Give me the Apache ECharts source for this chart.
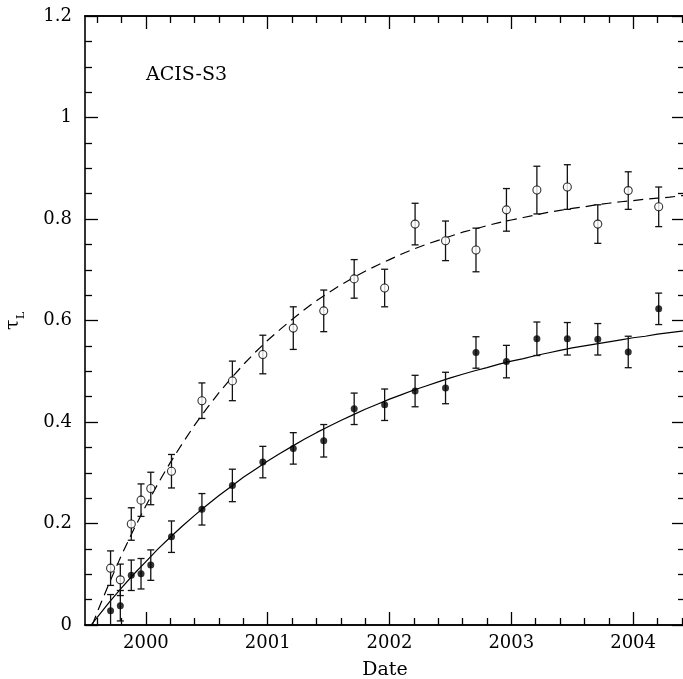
<!DOCTYPE html>
<html>
<head>
<meta charset="utf-8">
<script src="https://cdn.jsdelivr.net/npm/echarts@6/dist/echarts.min.js"></script>
<style>html,body{margin:0;padding:0;background:#fff;}#c{width:683px;height:679px;}</style>
</head>
<body>
<div id="c"></div>
<script>
// Observation dates (decimal years)
var dates = [1999.71, 1999.79, 1999.88, 1999.96, 2000.04, 2000.21, 2000.46, 2000.71, 2000.96, 2001.21, 2001.46,
             2001.71, 2001.96, 2002.21, 2002.46, 2002.71, 2002.96, 2003.21, 2003.46, 2003.71, 2003.96, 2004.21];
// Filled points (tau_L) and errors
var filledTau = [0.028, 0.038, 0.098, 0.101, 0.118, 0.174, 0.228, 0.275, 0.321, 0.348, 0.363,
                 0.426, 0.434, 0.461, 0.467, 0.537, 0.519, 0.564, 0.564, 0.563, 0.538, 0.623];
var filledErr = [0.032, 0.030, 0.030, 0.030, 0.030, 0.031, 0.031, 0.032, 0.031, 0.031, 0.032,
                 0.031, 0.031, 0.031, 0.031, 0.031, 0.032, 0.033, 0.032, 0.031, 0.031, 0.031];
// Open points (tau_L) and errors
var openTau = [0.112, 0.089, 0.199, 0.246, 0.269, 0.303, 0.442, 0.481, 0.533, 0.585, 0.619,
               0.682, 0.664, 0.790, 0.757, 0.739, 0.818, 0.857, 0.863, 0.790, 0.856, 0.824];
var openErr = [0.034, 0.031, 0.032, 0.032, 0.032, 0.033, 0.035, 0.039, 0.038, 0.042, 0.041,
               0.038, 0.037, 0.041, 0.039, 0.043, 0.042, 0.047, 0.044, 0.038, 0.037, 0.039];
// Fit curves
var solidYears = [1999.55, 1999.6, 1999.7, 1999.8, 1999.9, 2000.0, 2000.1, 2000.2, 2000.3, 2000.4, 2000.5,
                  2000.6, 2000.7, 2000.8, 2000.9, 2001.0, 2001.1, 2001.2, 2001.3, 2001.4, 2001.5,
                  2001.6, 2001.7, 2001.8, 2001.9, 2002.0, 2002.1, 2002.2, 2002.3, 2002.4, 2002.5,
                  2002.6, 2002.7, 2002.8, 2002.9, 2003.0, 2003.1, 2003.2, 2003.3, 2003.4, 2003.5,
                  2003.6, 2003.7, 2003.8, 2003.9, 2004.0, 2004.1, 2004.2, 2004.3, 2004.4, 2004.5];
var solidVals = [0.000, 0.015, 0.045, 0.073, 0.100, 0.125, 0.150, 0.173, 0.195, 0.216, 0.236,
                 0.255, 0.273, 0.291, 0.307, 0.323, 0.338, 0.352, 0.366, 0.379, 0.391,
                 0.403, 0.414, 0.425, 0.435, 0.445, 0.454, 0.463, 0.471, 0.479, 0.487,
                 0.494, 0.501, 0.507, 0.514, 0.520, 0.525, 0.531, 0.536, 0.541, 0.546,
                 0.550, 0.554, 0.558, 0.562, 0.566, 0.569, 0.573, 0.576, 0.579, 0.582];
var dashedYears = [1999.56, 1999.6, 1999.7, 1999.8, 1999.9, 2000.0, 2000.1, 2000.2, 2000.3, 2000.4, 2000.5,
                   2000.6, 2000.7, 2000.8, 2000.9, 2001.0, 2001.1, 2001.2, 2001.3, 2001.4, 2001.5,
                   2001.6, 2001.7, 2001.8, 2001.9, 2002.0, 2002.1, 2002.2, 2002.3, 2002.4, 2002.5,
                   2002.6, 2002.7, 2002.8, 2002.9, 2003.0, 2003.1, 2003.2, 2003.3, 2003.4, 2003.5,
                   2003.6, 2003.7, 2003.8, 2003.9, 2004.0, 2004.1, 2004.2, 2004.3, 2004.4, 2004.5];
var dashedVals = [0.000, 0.025, 0.083, 0.138, 0.188, 0.235, 0.279, 0.320, 0.358, 0.394, 0.427,
                  0.458, 0.486, 0.513, 0.538, 0.561, 0.582, 0.602, 0.621, 0.639, 0.655,
                  0.670, 0.684, 0.697, 0.709, 0.720, 0.731, 0.741, 0.750, 0.758, 0.766,
                  0.774, 0.780, 0.787, 0.793, 0.798, 0.803, 0.808, 0.813, 0.817, 0.821,
                  0.824, 0.828, 0.831, 0.834, 0.836, 0.839, 0.841, 0.843, 0.846, 0.847];
// Axis ticks
var xMajorTicks = [2000, 2001, 2002, 2003, 2004];
var xMinorTicks = [1999.6, 1999.8, 2000.2, 2000.4, 2000.6, 2000.8, 2001.2, 2001.4, 2001.6, 2001.8,
                   2002.2, 2002.4, 2002.6, 2002.8, 2003.2, 2003.4, 2003.6, 2003.8, 2004.2, 2004.4];

var X_MIN = 1999.5, X_MAX = 2004.426;
var FONT = 'DejaVu Serif';
var chart = echarts.init(document.getElementById('c'), null, {renderer: 'canvas'});

function zip3(a, b, c) { return a.map(function (v, i) { return [v, b[i], c[i]]; }); }
function zip2(a, b) { return a.map(function (v, i) { return [v, b[i]]; }); }

function errRender(params, api) {
  var x = api.value(0), y = api.value(1), e = api.value(2);
  var t = api.coord([x, y + e]), b = api.coord([x, y - e]);
  var hw = 3.5, st = {stroke: '#111', lineWidth: 1.3};
  return {type: 'group', children: [
    {type: 'line', shape: {x1: t[0], y1: t[1], x2: b[0], y2: b[1]}, style: st},
    {type: 'line', shape: {x1: t[0] - hw, y1: t[1], x2: t[0] + hw, y2: t[1]}, style: st},
    {type: 'line', shape: {x1: b[0] - hw, y1: b[1], x2: b[0] + hw, y2: b[1]}, style: st}
  ]};
}

var axLine = {show: true, lineStyle: {color: '#000', width: 1.6}};
function xAx(pos, ticks, len, showLabel) {
  return {
    type: 'value', position: pos, min: X_MIN, max: X_MAX,
    axisLine: axLine,
    axisTick: {show: true, inside: true, length: len, customValues: ticks, lineStyle: {color: '#000', width: 1.3}},
    axisLabel: showLabel ? {show: true, customValues: ticks, margin: 9, color: '#000', fontFamily: FONT, fontSize: 18,
                             formatter: function (v) { return String(Math.round(v)); }} : {show: false},
    splitLine: {show: false}
  };
}
function yAx(pos, showLabel) {
  return {
    type: 'value', position: pos, min: 0, max: 1.2, interval: 0.2,
    axisLine: axLine,
    axisTick: {show: true, inside: true, length: 13, lineStyle: {color: '#000', width: 1.3}},
    minorTick: {show: true, splitNumber: 4, length: 7, lineStyle: {color: '#000', width: 1.3}},
    axisLabel: showLabel ? {show: true, margin: 13, color: '#000', fontFamily: FONT, fontSize: 18,
                             formatter: function (v) { return String(Math.round(v * 10) / 10); }} : {show: false},
    splitLine: {show: false}
  };
}

var xBottom = xAx('bottom', xMajorTicks, 13, true);
xBottom.name = 'Date';
xBottom.nameLocation = 'middle';
xBottom.nameGap = 36;
xBottom.nameTextStyle = {color: '#000', fontFamily: FONT, fontSize: 19};

var option = {
  animation: false,
  backgroundColor: '#fff',
  grid: {left: 85, right: -2, top: 16, bottom: 54, containLabel: false, outerBoundsMode: 'none'},
  xAxis: [
    xBottom,
    xAx('bottom', xMinorTicks, 7, false),
    xAx('top', xMajorTicks, 13, false),
    xAx('top', xMinorTicks, 7, false)
  ],
  yAxis: [yAx('left', true), yAx('right', false)],
  graphic: [
    {type: 'text', left: 146, top: 66, style: {text: 'ACIS-S3', fontFamily: FONT, fontSize: 19, fill: '#000'}},
    {type: 'group', x: 19, y: 330, rotation: Math.PI / 2, children: [
      {type: 'text', x: 0, y: -6, style: {text: 'τ', fontFamily: FONT, fontSize: 19, fill: '#000', textVerticalAlign: 'middle'}},
      {type: 'text', x: 11, y: 2, style: {text: 'L', fontFamily: FONT, fontSize: 11, fill: '#000', textVerticalAlign: 'middle'}}
    ]}
  ],
  series: [
    {type: 'line', xAxisIndex: 0, yAxisIndex: 0, data: zip2(solidYears, solidVals), showSymbol: false, smooth: false,
     lineStyle: {color: '#000', width: 1.2}, z: 1, silent: true},
    {type: 'line', xAxisIndex: 0, yAxisIndex: 0, data: zip2(dashedYears, dashedVals), showSymbol: false, smooth: false,
     lineStyle: {color: '#000', width: 1.2, type: [10, 6]}, z: 1, silent: true},
    {type: 'custom', xAxisIndex: 0, yAxisIndex: 0, data: zip3(dates, filledTau, filledErr), renderItem: errRender, clip: true, z: 2},
    {type: 'custom', xAxisIndex: 0, yAxisIndex: 0, data: zip3(dates, openTau, openErr), renderItem: errRender, clip: true, z: 2},
    {type: 'scatter', xAxisIndex: 0, yAxisIndex: 0, data: zip2(dates, filledTau), symbol: 'circle', symbolSize: 7,
     itemStyle: {color: '#000'}, z: 3},
    {type: 'scatter', xAxisIndex: 0, yAxisIndex: 0, data: zip2(dates, openTau), symbol: 'circle', symbolSize: 8,
     itemStyle: {color: '#fff', borderColor: '#000', borderWidth: 1.1}, z: 3}
  ]
};
chart.setOption(option);
</script>
</body>
</html>
